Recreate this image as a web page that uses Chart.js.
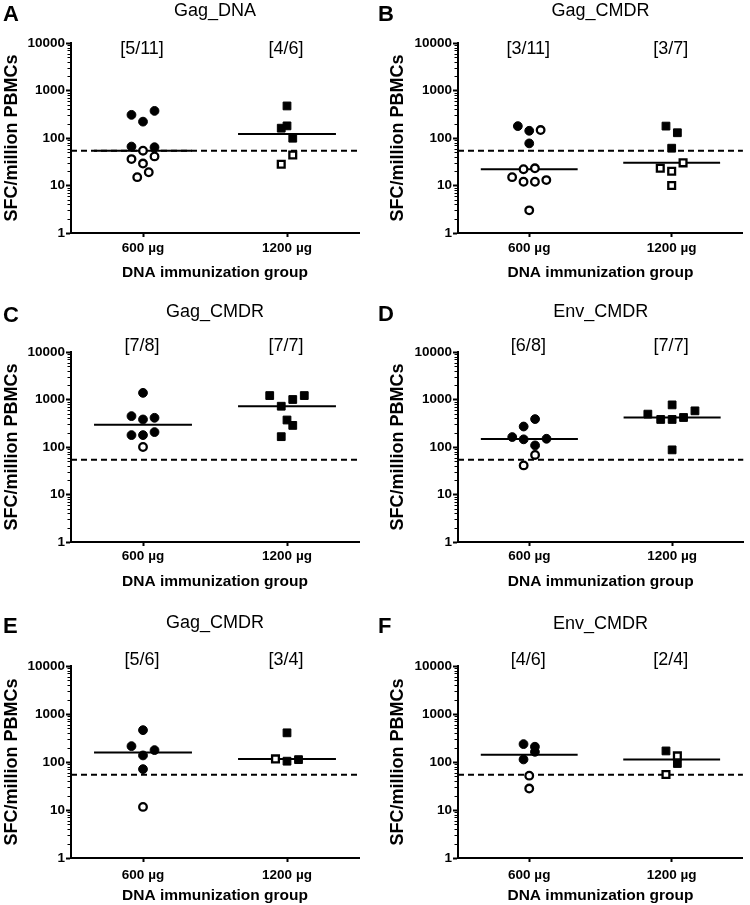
<!DOCTYPE html>
<html>
<head>
<meta charset="utf-8">
<script src="https://cdn.jsdelivr.net/npm/chart.js@4.4.1/dist/chart.umd.min.js"></script>
<style>
  body { margin: 0; background: #fff; }
  #wrap { position: relative; width: 750px; height: 905px; }
  #wrap canvas { position: absolute; }
</style>
</head>
<body>
<div id="wrap"></div>
<script>
// ---- data ----
const groups = ['600 µg', '1200 µg'];
const yTicks = [1, 10, 100, 1000, 10000];
const cutoff = 54;

const letters = ['A', 'B', 'C', 'D', 'E', 'F'];
const titles = ['Gag_DNA', 'Gag_CMDR', 'Gag_CMDR', 'Env_CMDR', 'Gag_CMDR', 'Env_CMDR'];
const counts600 = ['[5/11]', '[3/11]', '[7/8]', '[6/8]', '[5/6]', '[4/6]'];
const counts1200 = ['[4/6]', '[3/7]', '[7/7]', '[7/7]', '[3/4]', '[2/4]'];

// SFC per million PBMCs, one row per panel
const sfc600 = [
  [307, 221, 372, 66, 64, 54, 36, 41, 29, 19, 15],
  [178, 142, 147, 77, 22, 23, 15, 12, 12, 13, 3],
  [1380, 447, 380, 412, 178, 178, 206, 100],
  [387, 270, 162, 145, 149, 108, 68, 41],
  [461, 214, 177, 137, 71, 11.6],
  [236, 208, 163, 113, 52, 28]
];
// horizontal spread of the dots around the group
const jit600 = [
  [-0.08, 0, 0.08, -0.08, 0.08, 0, -0.08, 0.08, 0, 0.04, -0.04],
  [-0.08, 0, 0.08, 0, -0.04, 0.04, -0.12, -0.04, 0.04, 0.12, 0],
  [0, -0.08, 0, 0.08, -0.08, 0, 0.08, 0],
  [0.04, -0.04, -0.12, -0.04, 0.12, 0.04, 0.04, -0.04],
  [0, -0.08, 0.08, 0, 0, 0],
  [-0.04, 0.04, 0.04, -0.04, 0, 0]
];
// 1 = responder (filled), 0 = non responder (open)
const resp600 = [
  [1, 1, 1, 1, 1, 0, 0, 0, 0, 0, 0],
  [1, 1, 0, 1, 0, 0, 0, 0, 0, 0, 0],
  [1, 1, 1, 1, 1, 1, 1, 0],
  [1, 1, 1, 1, 1, 1, 0, 0],
  [1, 1, 1, 1, 1, 0],
  [1, 1, 1, 1, 0, 0]
];

const sfc1200 = [
  [473, 180, 161, 99, 44, 28],
  [178, 129, 61, 30, 23, 20, 10],
  [1210, 1210, 1000, 722, 370, 285, 165],
  [770, 577, 492, 380, 380, 418, 87],
  [405, 116, 104, 112],
  [170, 134, 93, 55]
];
const jit1200 = [
  [0, 0, -0.04, 0.04, 0.04, -0.04],
  [-0.04, 0.04, 0, 0.08, -0.08, 0, 0],
  [-0.12, 0.12, 0.04, -0.04, 0, 0.04, -0.04],
  [0, 0.16, -0.17, -0.08, 0, 0.08, 0],
  [0, -0.08, 0, 0.08],
  [-0.04, 0.04, 0.04, -0.04]
];
const resp1200 = [
  [1, 1, 1, 1, 0, 0],
  [1, 1, 1, 0, 0, 0, 0],
  [1, 1, 1, 1, 1, 1, 1],
  [1, 1, 1, 1, 1, 1, 1],
  [1, 0, 1, 1],
  [1, 0, 1, 0]
];

const median600 = [54, 22, 294, 147, 158, 142];
const median1200 = [122, 30, 722, 418, 116, 113];

// ---- layout of the six panels ----
const FONT = '"Liberation Sans", Arial, Helvetica, sans-serif';
const panelX = [0, 375, 0, 375, 0, 375];
const panelY = [0, 0, 300, 300, 600, 600];
const panelH = [300, 300, 300, 300, 305, 305];
const plotTop = [43, 43, 52, 52, 66, 66];
const plotBottom = [233, 233, 242, 242, 258, 258];
const plotLeft = [71, 83, 71, 83, 71, 83];
const plotRight = [359, 372, 359, 373, 359, 373];
const letterY = [21, 21, 22, 21, 33, 33];
const titleY = [16, 16, 17, 17, 28, 29];
const countY = [54, 54, 51, 51, 65, 65];
const xTickPad = [3, 3, 2, 2, 5, 5];
const xTitlePad = [18, 18, 9, 9, 0, 0];
const yTitlePad = [3, 14, 3, 14, 3, 14];

const panelText = {
  id: 'panelText',
  afterDraw(chart, args, opts) {
    const ctx = chart.ctx;
    const xs = chart.scales.x, ys = chart.scales.y;
    const area = chart.chartArea;
    ctx.save();
    // log minor ticks
    ctx.strokeStyle = '#000';
    ctx.lineWidth = 1;
    for (let d = 1; d < 10000; d *= 10) {
      for (let m = 2; m < 10; m++) {
        const py = Math.round(ys.getPixelForValue(d * m)) + 0.5;
        ctx.beginPath();
        ctx.moveTo(area.left - 3.5, py);
        ctx.lineTo(area.left, py);
        ctx.stroke();
      }
    }
    ctx.fillStyle = '#000';
    ctx.textBaseline = 'alphabetic';
    ctx.textAlign = 'left';
    ctx.font = 'bold 22px ' + FONT;
    ctx.fillText(opts.letter, 3, opts.letterY);
    ctx.textAlign = 'center';
    ctx.font = '18px ' + FONT;
    ctx.fillText(opts.title, (area.left + area.right) / 2, opts.titleY);
    ctx.fillText(opts.counts[0], xs.getPixelForValue(1) - 1, opts.countY);
    ctx.fillText(opts.counts[1], xs.getPixelForValue(2) - 1, opts.countY);
    ctx.restore();
  }
};

function groupPoints(vals, jit, cat) {
  return vals.map((v, i) => ({ x: cat + jit[i], y: v }));
}

const wrap = document.getElementById('wrap');

for (let p = 0; p < 6; p++) {
  const cv = document.createElement('canvas');
  cv.width = 375;
  cv.height = panelH[p];
  cv.style.left = panelX[p] + 'px';
  cv.style.top = panelY[p] + 'px';
  cv.style.width = '375px';
  cv.style.height = panelH[p] + 'px';
  wrap.appendChild(cv);

  const fill600 = resp600[p].map(r => r ? '#000' : '#fff');
  const fill1200 = resp1200[p].map(r => r ? '#000' : '#fff');

  new Chart(cv.getContext('2d'), {
    type: 'scatter',
    data: {
      datasets: [
        {
          data: groupPoints(sfc600[p], jit600[p], 1),
          pointStyle: 'circle',
          pointBackgroundColor: fill600,
          pointBorderColor: '#000',
          pointBorderWidth: resp600[p].map(r => r ? 1 : 2.3),
          pointRadius: resp600[p].map(r => r ? 4.4 : 3.8),
          order: 0
        },
        {
          data: groupPoints(sfc1200[p], jit1200[p], 2),
          pointStyle: 'rect',
          pointBackgroundColor: fill1200,
          pointBorderColor: '#000',
          pointBorderWidth: resp1200[p].map(r => r ? 1 : 2.3),
          pointRadius: resp1200[p].map(r => r ? 5.5 : 4.8),
          order: 0
        },
        {
          type: 'line',
          data: [{ x: 1 - 0.34, y: median600[p] }, { x: 1 + 0.34, y: median600[p] }],
          borderColor: '#000', borderWidth: 2, pointRadius: 0, order: 1
        },
        {
          type: 'line',
          data: [{ x: 2 - 0.34, y: median1200[p] }, { x: 2 + 0.34, y: median1200[p] }],
          borderColor: '#000', borderWidth: 2, pointRadius: 0, order: 1
        },
        {
          type: 'line',
          data: [{ x: 0.5, y: cutoff }, { x: 2.5, y: cutoff }],
          borderColor: '#000', borderWidth: 2, borderDash: [6, 4],
          pointRadius: 0, order: 2
        }
      ]
    },
    options: {
      responsive: false,
      animation: false,
      layout: { padding: { top: plotTop[p], right: 375 - plotRight[p], left: 0, bottom: 0 } },
      plugins: {
        legend: { display: false },
        tooltip: { enabled: false },
        panelText: {
          letter: letters[p], title: titles[p],
          counts: [counts600[p], counts1200[p]],
          letterY: letterY[p], titleY: titleY[p], countY: countY[p]
        }
      },
      scales: {
        x: {
          type: 'linear', min: 0.5, max: 2.5,
          afterBuildTicks: s => { s.ticks = [{ value: 1 }, { value: 2 }]; },
          afterFit: s => { s.height = panelH[p] - plotBottom[p]; },
          ticks: {
            callback: v => groups[v - 1],
            color: '#000', padding: xTickPad[p],
            font: { family: FONT, size: 13.5, weight: 'bold' }
          },
          grid: { drawOnChartArea: false, tickLength: 4, tickWidth: 2, tickColor: '#000' },
          border: { color: '#000', width: 2 },
          title: {
            display: true, text: 'DNA immunization group', color: '#000',
            padding: { top: 0, bottom: xTitlePad[p] },
            font: { family: FONT, size: 15.5, weight: 'bold', lineHeight: 1.2 }
          }
        },
        y: {
          type: 'logarithmic', min: 1, max: 10000,
          afterBuildTicks: s => { s.ticks = yTicks.map(v => ({ value: v })); },
          afterFit: s => { s.width = plotLeft[p]; },
          ticks: {
            callback: v => String(v),
            color: '#000', padding: 1,
            font: { family: FONT, size: 13.5, weight: 'bold' }
          },
          grid: { drawOnChartArea: false, tickLength: 5, tickWidth: 2, tickColor: '#000' },
          border: { color: '#000', width: 2 },
          title: {
            display: true, text: 'SFC/million PBMCs', color: '#000',
            padding: { top: yTitlePad[p], bottom: 0 },
            font: { family: FONT, size: 18, weight: 'bold', lineHeight: 1 }
          }
        }
      }
    },
    plugins: [panelText]
  });
}
</script>
</body>
</html>
